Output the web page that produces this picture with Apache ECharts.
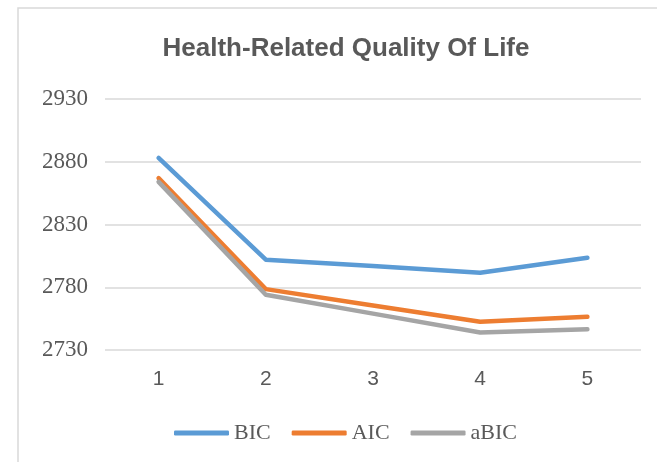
<!DOCTYPE html>
<html>
<head>
<meta charset="utf-8">
<script src="https://cdn.jsdelivr.net/npm/echarts@6/dist/echarts.min.js"></script>
<style>
  html, body { margin: 0; padding: 0; background: #fff; }
</style>
</head>
<body>
<div id="main" style="width: 657px;height:462px;"></div>
<script>
  var categories = ['1', '2', '3', '4', '5'];
  var bic = [2883, 2802, 2797, 2791.5, 2803.5];
  var aic = [2867, 2778.5, 2765.5, 2752.5, 2756.5];
  var abic = [2864, 2774, 2759, 2744, 2746.5];
  var yTicks = [2730, 2780, 2830, 2880, 2930];

  var myChart = echarts.init(document.getElementById('main'));

  function lineSeries(name, data, color) {
    return {
      name: name,
      type: 'line',
      data: data,
      showSymbol: false,
      symbol: 'none',
      lineStyle: { color: color, width: 4.5, cap: 'round', join: 'round' },
      itemStyle: { color: color }
    };
  }

  var option = {
    animation: false,
    graphic: [
      {
        type: 'rect',
        shape: { x: 18, y: 8, width: 700, height: 470 },
        style: { fill: 'none', stroke: '#d9d9d9', lineWidth: 1.5 }
      }
    ],
    title: {
      text: 'Health-Related Quality Of Life',
      left: 341,
      top: 31,
      textAlign: 'center',
      textStyle: {
        fontFamily: '"Liberation Sans", Arial, sans-serif',
        fontSize: 26,
        fontWeight: 'bold',
        color: '#595959'
      }
    },
    legend: {
      data: ['BIC', 'AIC', 'aBIC'],
      left: 169,
      top: 417,
      icon: 'roundRect',
      itemWidth: 55,
      itemHeight: 5,
      itemGap: 21,
      textStyle: {
        fontFamily: '"Liberation Serif", "Times New Roman", serif',
        fontSize: 22,
        color: '#595959'
      }
    },
    grid: {
      left: 105,
      right: 16,
      top: 99,
      bottom: 112,
      containLabel: false
    },
    xAxis: {
      type: 'category',
      data: categories,
      boundaryGap: true,
      axisLine: { show: false },
      axisTick: { show: false },
      axisLabel: {
        margin: 19,
        fontFamily: '"Liberation Sans", Arial, sans-serif',
        fontSize: 21,
        color: '#595959'
      }
    },
    yAxis: {
      type: 'value',
      min: yTicks[0],
      max: yTicks[yTicks.length - 1],
      interval: yTicks[1] - yTicks[0],
      axisLine: { show: false },
      axisTick: { show: false },
      axisLabel: {
        margin: 17,
        formatter: function (v) { return String(v); },
        fontFamily: '"Liberation Serif", "Times New Roman", serif',
        fontSize: 23,
        color: '#595959'
      },
      splitLine: { lineStyle: { color: '#d9d9d9', width: 1.5 } }
    },
    series: [
      lineSeries('BIC', bic, '#5b9bd5'),
      lineSeries('AIC', aic, '#ed7d31'),
      lineSeries('aBIC', abic, '#a5a5a5')
    ]
  };

  myChart.setOption(option);
</script>
</body>
</html>
